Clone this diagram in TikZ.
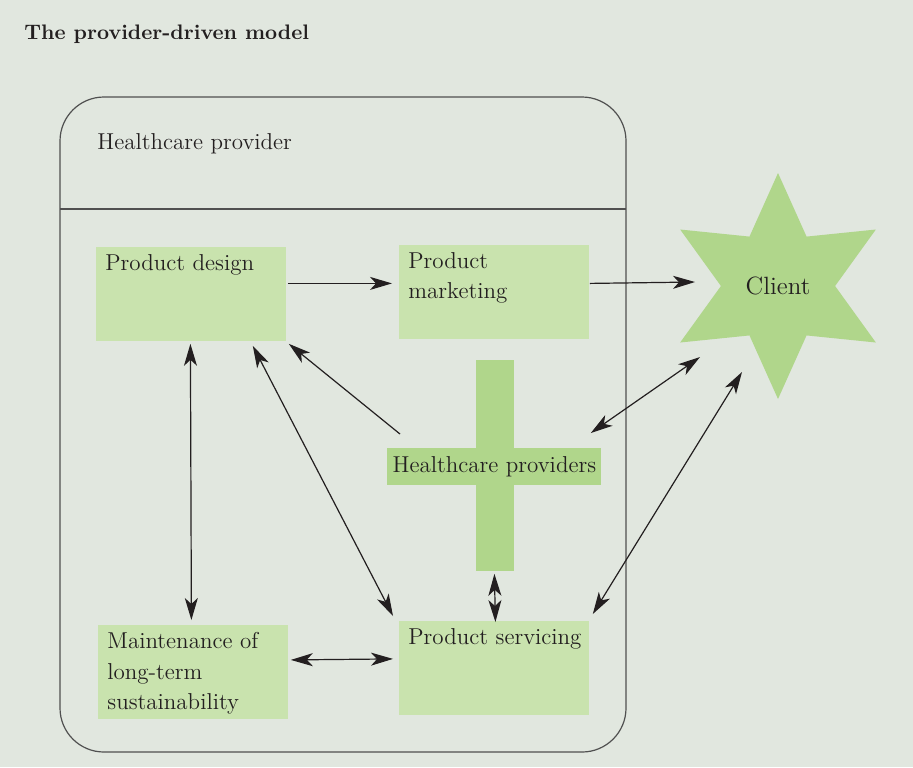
\documentclass[tikz,border=0pt]{standalone}
\usetikzlibrary{arrows.meta,shapes.geometric}
\definecolor{bggreen}{RGB}{225,231,223}
\definecolor{boxgreen}{RGB}{201,227,174}
\definecolor{darkgreen}{RGB}{176,214,139}
\definecolor{inkgray}{RGB}{35,31,32}
\definecolor{framegray}{RGB}{80,80,80}
\newcommand{\txt}{\fontsize{11.5}{15.2}\selectfont}

\begin{document}
\begin{tikzpicture}[x=0.5pt,y=-0.5pt,font=\txt,text=inkgray,
   box/.style={rectangle,fill=boxgreen,inner sep=0pt,anchor=north west,minimum width=95pt,minimum height=47pt},
   boxtext/.style={anchor=north west,align=left,inner xsep=4.5pt,inner ysep=3.5pt,text=inkgray},
   bar/.style={rectangle,fill=darkgreen,inner sep=0pt,anchor=north west},
   arr/.style={draw=inkgray,line width=0.6pt,-{Stealth[length=11pt,width=6.5pt,inset=3pt]}},
   darr/.style={arr,{Stealth[length=11pt,width=6.5pt,inset=3pt]}-{Stealth[length=11pt,width=6.5pt,inset=3pt]}}]
   \useasboundingbox (0,0) rectangle (913,767);
   \fill[bggreen] (0,0) rectangle (913,767);
   \node[anchor=west,inner sep=0pt,font=\fontsize{10.5}{13}\selectfont\bfseries] (title) at (24,34) {The provider-driven model};
   \draw[framegray,line width=0.6pt,rounded corners=22pt] (60,97) rectangle (626,752);
   \draw[framegray,line width=0.6pt] (60,209) -- (626,209);
   \node[anchor=west,inner sep=0pt] (provider) at (97,144) {Healthcare provider};
   \node[box,label={[boxtext]north west:{Product design}}] (pdesign) at (96,247) {};
   \node[box,label={[boxtext]north west:{Product\\marketing}}] (pmarket) at (399,245) {};
   \node[box,label={[boxtext]north west:{Maintenance of\\long-term\\sustainability}}] (maint) at (98,625) {};
   \node[box,label={[boxtext]north west:{Product servicing}}] (pserv) at (399,621) {};
   \node[bar,minimum width=19pt,minimum height=105.5pt] (hcpbar) at (476,360) {};
   \node[bar,minimum width=107pt,minimum height=18.5pt] (hcp) at (387,448) {Healthcare providers};
   \node[star,star points=6,star point ratio=1.98,minimum size=113pt,inner sep=0pt,fill=darkgreen,
         font=\fontsize{12.5}{14}\selectfont] (client) at (778,286) {Client};
   \draw[arr] ([shift={(1,-11)}]pdesign.east) -- ([shift={(-7,-9)}]pmarket.west);
   \draw[arr] ([shift={(0,-9)}]pmarket.east) -- ([shift={(-83,-4)}]client.center);
   \draw[arr] ([shift={(13,-14)}]hcp.north west) -- ([shift={(2,2)}]pdesign.south east);
   \draw[darr] ([shift={(-1,2)}]pdesign.south) -- ([shift={(-2,-5)}]maint.north);
   \draw[darr] ([shift={(-34,4)}]pdesign.south east) -- ([shift={(-6,-5)}]pserv.north west);
   \draw[darr] ([shift={(2,-12.5)}]maint.east) -- ([shift={(-6,-9.5)}]pserv.west);
   \draw[darr] ([shift={(-1,2)}]hcpbar.south) -- ([shift={(1,1)}]pserv.north);
   \draw[darr] ([shift={(-11,-15)}]hcp.north east) -- ([shift={(-78,71)}]client.center);
   \draw[darr] ([shift={(3,-7)}]pserv.north east) -- ([shift={(-36,86)}]client.center);
\end{tikzpicture}
\end{document}
